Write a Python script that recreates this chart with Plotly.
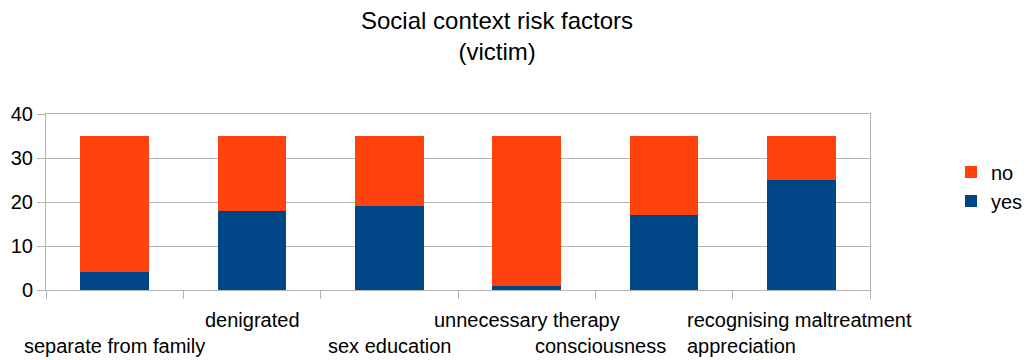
import plotly.graph_objects as go

categories = ["separate from family", "denigrated", "sex education",
              "unnecessary therapy", "consciousness",
              "recognising maltreatment appreciation"]
label_text = ["separate from family", "denigrated", "sex education",
              "unnecessary therapy", "consciousness",
              "recognising maltreatment<br>appreciation"]
yes_vals = [4, 18, 19, 1, 17, 25]
no_vals = [31, 17, 16, 34, 18, 10]

FONT = "Liberation Sans, Arial, sans-serif"
GRID = "#b3b3b3"
PLOT_TOP, PLOT_BOTTOM = 114, 290
PH = PLOT_BOTTOM - PLOT_TOP


def py(px):
    return (PLOT_BOTTOM - px) / PH


fig = go.Figure()
fig.add_trace(go.Bar(x=categories, y=yes_vals, name="yes", marker_color="#004586",
                     marker_line_width=0))
fig.add_trace(go.Bar(x=categories, y=no_vals, name="no", marker_color="#ff420e",
                     marker_line_width=0))

# staggered category labels (lower, upper, lower, upper, lower, wrapped)
label_ypx = [346, 320, 346, 320, 346, 333]
label_anchor = ["center", "center", "center", "center", "right", "center"]
label_shift = [0, 0, 0, 0, 4, -2]
for cat, txt, ypx, anc, sh in zip(categories, label_text, label_ypx, label_anchor, label_shift):
    fig.add_annotation(x=cat, y=py(ypx), xref="x", yref="paper", text=txt,
                       showarrow=False, xanchor=anc, yanchor="middle", xshift=sh,
                       align="left", font=dict(family=FONT, size=20, color="#000000"))

# title
fig.add_annotation(x=(497 - 46) / 824, y=py(36), xref="paper", yref="paper",
                   text="Social context risk factors<br>(victim)", showarrow=False,
                   xanchor="center", yanchor="middle", align="center",
                   font=dict(family=FONT, size=24, color="#000000"))

fig.update_layout(
    width=1027, height=360,
    margin=dict(l=46, r=157, t=114, b=70, autoexpand=False),
    paper_bgcolor="white", plot_bgcolor="white",
    barmode="stack", bargap=0.5,
    font=dict(family=FONT, size=20, color="#000000"),
    legend=dict(x=(951 - 46) / 824, xanchor="left", y=py(186.5), yanchor="middle",
                traceorder="reversed", font=dict(family=FONT, size=20, color="#000000"),
                bgcolor="rgba(0,0,0,0)", borderwidth=0),
    showlegend=True,
)
fig.update_xaxes(showticklabels=False, tickson="boundaries", ticks="outside",
                 ticklen=8, tickcolor=GRID, showline=True, linecolor=GRID,
                 linewidth=1, mirror=True, showgrid=False, range=[-0.5, 5.5])
fig.update_yaxes(range=[0, 40], dtick=10, ticks="outside", ticklen=8, tickcolor=GRID,
                 showgrid=True, gridcolor=GRID, gridwidth=1, showline=True,
                 linecolor=GRID, linewidth=1, mirror=True, zeroline=False,
                 tickfont=dict(family=FONT, size=20, color="#000000"))

fig.write_html("out.html")
